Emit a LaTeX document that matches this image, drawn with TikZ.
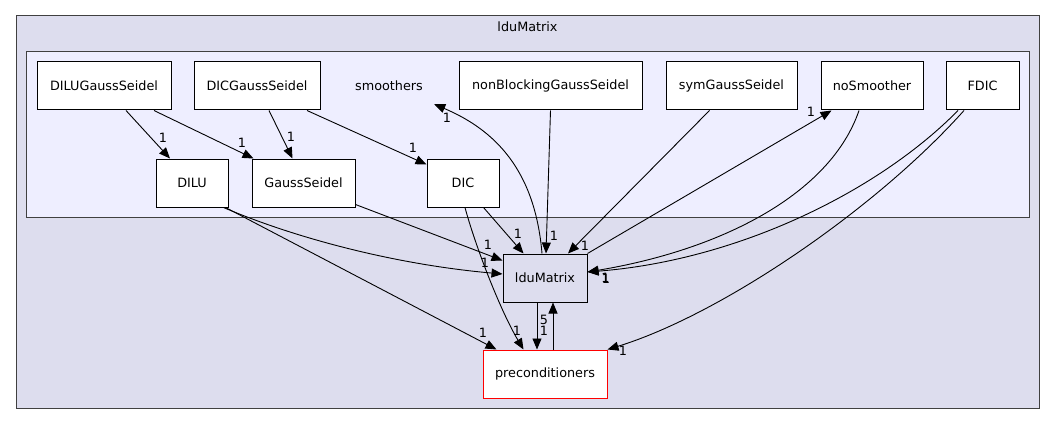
\documentclass[tikz,border=0pt]{standalone}
\usepackage{fontspec}
\setmainfont{DejaVu Sans}
\usetikzlibrary{calc, arrows.meta}
\definecolor{outerfill}{HTML}{DDDDEE}
\definecolor{innerfill}{HTML}{EEEEFF}
\definecolor{clusterline}{HTML}{404040}

\begin{document}
\begin{tikzpicture}[x=1pt, y=-1pt,
    every node/.style={font=\fontsize{12.8}{15}\selectfont, inner sep=0pt},
    dirbox/.style={draw=black, fill=white, line width=1pt, minimum height=48, minimum width=#1},
    cluster/.style={draw=clusterline, line width=1pt},
    dep/.style={-{Triangle[length=11pt,width=9pt]}, line width=0.9pt},
    num/.style={}]
    \useasboundingbox (0,0) rectangle (1056,425);
    \fill[white] (0,0) rectangle (1056,425);

    % clusters
    \draw[cluster, fill=outerfill] (16,16) rectangle (1039,408);
    \node (lduMatrixLabel) at (527.5,27) {lduMatrix};
    \draw[cluster, fill=innerfill] (26,52) rectangle (1029,217);

    % directories
    \node[dirbox=134] (DILUGaussSeidel) at (104,86) {DILUGaussSeidel};
    \node[dirbox=126] (DICGaussSeidel) at (257,86) {DICGaussSeidel};
    \node[minimum width=90, minimum height=36] (smoothers) at (389,86) {smoothers};
    \node[dirbox=183] (nonBlockingGaussSeidel) at (550.5,86) {nonBlockingGaussSeidel};
    \node[dirbox=131] (symGaussSeidel) at (731.5,86) {symGaussSeidel};
    \node[dirbox=102] (noSmoother) at (872,86) {noSmoother};
    \node[dirbox=73] (FDIC) at (982.5,86) {FDIC};
    \node[dirbox=72] (DILU) at (192,183) {DILU};
    \node[dirbox=103] (GaussSeidel) at (303.5,183) {GaussSeidel};
    \node[dirbox=72] (DIC) at (463,183) {DIC};
    \node[dirbox=84, fill=outerfill] (lduMatrix) at (545,278) {lduMatrix};
    \node[dirbox=124, draw=red] (preconditioners) at (545,374) {preconditioners};

    % dependencies inside smoothers
    \draw[dep] ($(DILUGaussSeidel.south)+(22,0)$) -- ($(DILU.north)+(-22,0)$);
    \draw[dep] ($(DILUGaussSeidel.south)+(50,0)$) -- ($(GaussSeidel.north)+(-50,0)$);
    \draw[dep] ($(DICGaussSeidel.south)+(12,0)$) -- ($(GaussSeidel.north)+(-11,0)$);
    \draw[dep] ($(DICGaussSeidel.south)+(50,0)$) -- ($(DIC.north west)+(0,6)$);

    % dependencies on lduMatrix
    \draw[dep] ($(DILU.south east)+(-5,0)$) .. controls (300,240) and (400,265) .. ($(lduMatrix.west)+(0,-4)$);
    \draw[dep] ($(GaussSeidel.south east)+(0,-3)$) -- ($(lduMatrix.north west)+(0,7)$);
    \draw[dep] ($(DIC.south east)+(-16,0)$) -- ($(lduMatrix.north west)+(21,0)$);
    \draw[dep] ($(nonBlockingGaussSeidel.south)$) -- ($(lduMatrix.north)+(1,0)$);
    \draw[dep] ($(symGaussSeidel.south)+(-22,0)$) -- ($(lduMatrix.north)+(23,0)$);
    \draw[dep] ($(noSmoother.south)+(-13,0)$) .. controls (830,195) and (720,250) .. ($(lduMatrix.east)+(0,-6)$);
    \draw[dep] ($(FDIC.south)+(-24.5,0)$) .. controls (880,190) and (740,260) .. ($(lduMatrix.east)+(0,-6)$);

    % dependencies from lduMatrix
    \draw[dep] ($(lduMatrix.north)+(-3,0)$) .. controls (535,170) and (495,130) .. (smoothers.south east);
    \draw[dep] (lduMatrix.north east) -- ($(noSmoother.south west)+(11,0)$);

    % dependencies on preconditioners
    \draw[dep] ($(DILU.south east)+(-3,0)$) -- ($(preconditioners.north west)+(14,0)$);
    \draw[dep] ($(DIC.south)+(2,0)$) .. controls (475,245) and (500,310) .. ($(preconditioners.north west)+(41,0)$);
    \draw[dep] ($(FDIC.south)+(-18.5,0)$) .. controls (875,210) and (720,315) .. (preconditioners.north east);
    \draw[dep] ($(lduMatrix.south)+(-8,0)$) -- ($(preconditioners.north)+(-8,0)$);
    \draw[dep] ($(preconditioners.north)+(8,0)$) -- ($(lduMatrix.south)+(8,0)$);

    % edge counts
    \node[num] (n1) at (163,138) {1};
    \node[num] (n2) at (242,143) {1};
    \node[num] (n3) at (291,137) {1};
    \node[num] (n4) at (413,148) {1};
    \node[num] (n5) at (485,263) {1};
    \node[num] (n6) at (483,333) {1};
    \node[num] (n7) at (488,245) {1};
    \node[num] (n8) at (518,234) {1};
    \node[num] (n9) at (517,331) {1};
    \node[num] (n10) at (447,118) {1};
    \node[num] (n11) at (554,236) {1};
    \node[num] (n12) at (585,246) {1};
    \node[num] (n13) at (811,112) {1};
    \node[num] (n14) at (605.5,278) {1};
    \node[num] (n15) at (606,278.5) {1};
    \node[num] (n16) at (623,351) {1};
    \node[num] (n17) at (544,331) {1};
    \node[num] (n18) at (544,320) {5};
\end{tikzpicture}
\end{document}
